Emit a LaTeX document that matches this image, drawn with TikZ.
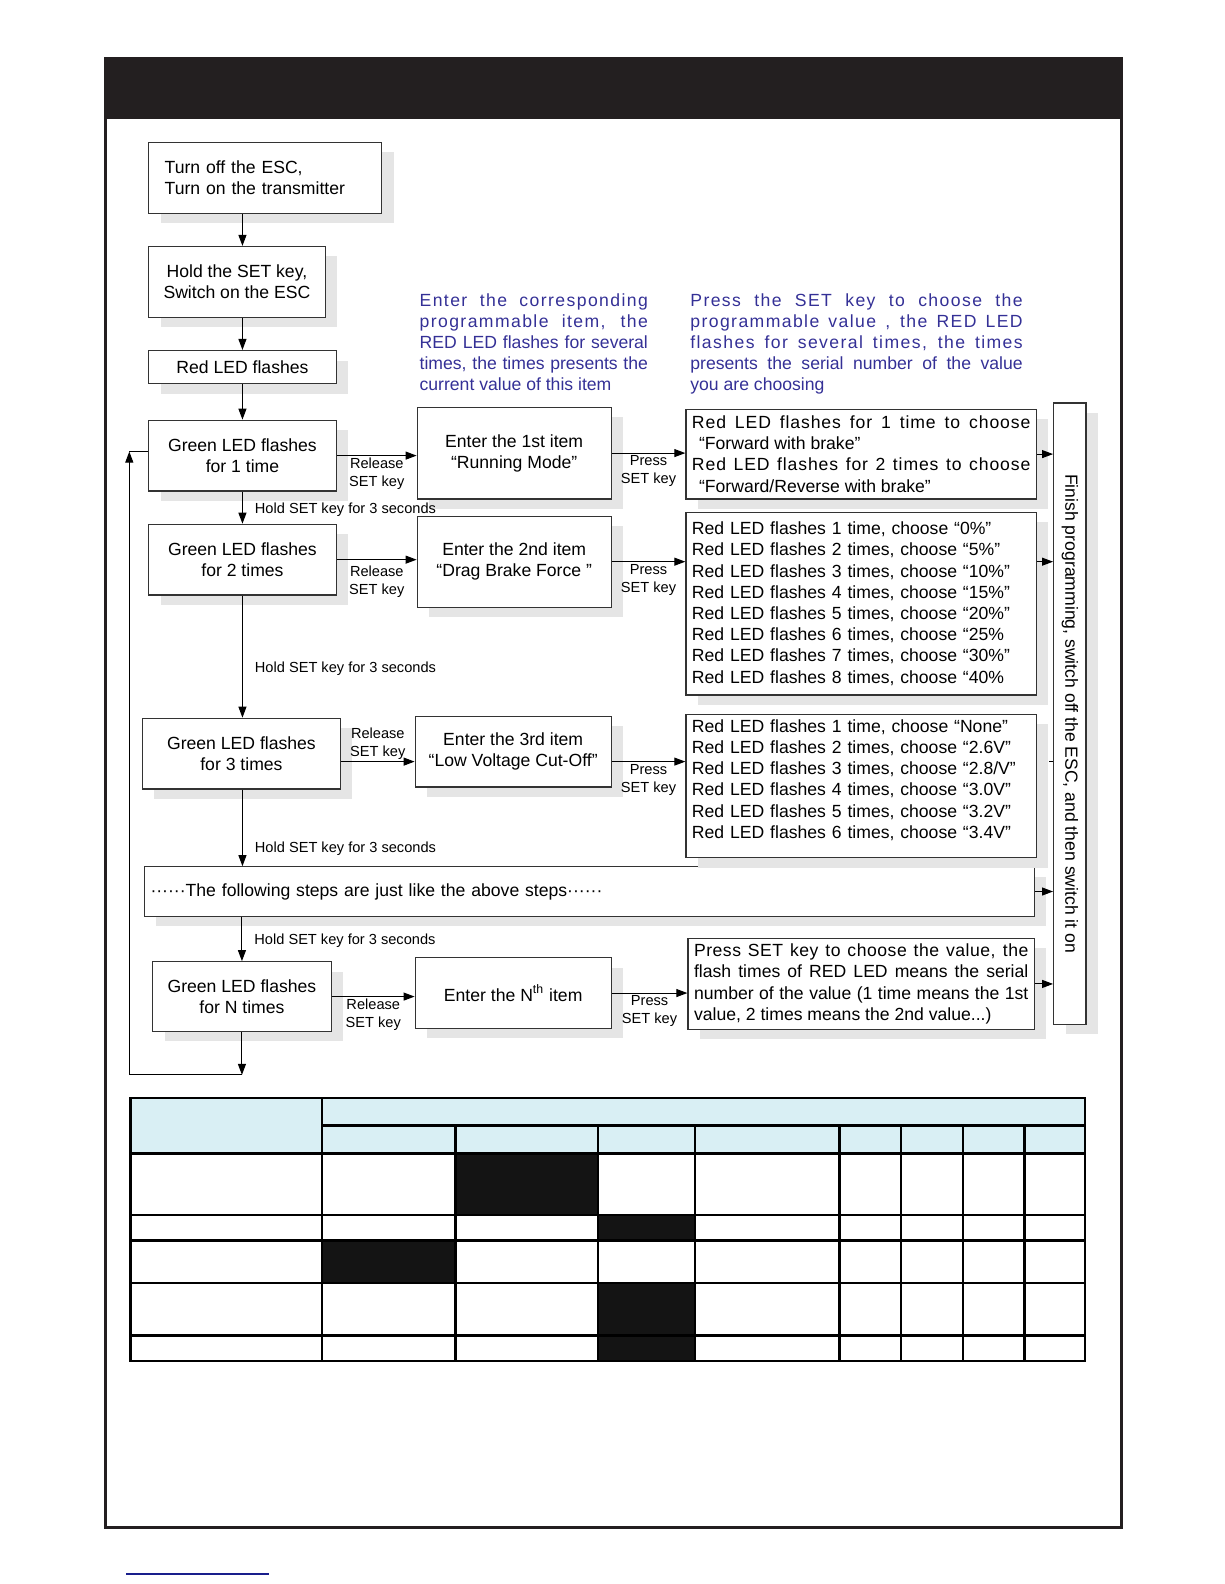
\documentclass[tikz,border=0pt]{standalone}
\usepackage{fontspec}
\setmainfont{Liberation Sans}
\newfontfamily\spacedA[LetterSpace=8]{Liberation Sans}
\newfontfamily\spacedB[LetterSpace=5]{Liberation Sans}
\newfontfamily\spacedC[LetterSpace=3]{Liberation Sans}
\usepackage{graphicx}
\usetikzlibrary{arrows.meta, shadows}
\definecolor{notec}{RGB}{52,48,150}
\definecolor{headc}{RGB}{217,239,244}
\definecolor{barc}{RGB}{35,31,32}
\definecolor{linkc}{RGB}{25,30,140}
\newlength{\pu}\setlength{\pu}{0.505pt}
\newcommand{\boxfont}{\fontsize{8.8}{10.6}\selectfont}
\newcommand{\keyfont}{\fontsize{7.3}{9}\selectfont}

\begin{document}
\begin{tikzpicture}[x=0.505pt, y=-0.505pt, >={Triangle[length=5.5pt, width=4pt]},
  box/.style={draw=black!80, line width=0.6pt, fill=white, inner sep=0pt, align=center, font=\boxfont,
    drop shadow={shadow xshift=6pt, shadow yshift=-5pt, fill=black!10, opacity=1}},
  keylbl/.style={font=\keyfont, align=center, inner sep=1pt},
  holdlbl/.style={font=\keyfont, right=6pt, inner sep=0pt},
  note/.style={text=notec, font=\boxfont, anchor=north west, inner sep=0pt, align=justify},
  link/.style={->, line width=0.5pt}]

\useasboundingbox (0,0) rectangle (1212,1568);

%% ── page frame ───────────────────────────────────────────────────
\fill[barc] (103,56) rectangle (1112,118);
\draw[barc, line width=1.6pt] (104.5,118) -- (104.5,1512) -- (1110.5,1512) -- (1110.5,118);
\draw[linkc, line width=0.8pt] (125,1558) -- (266,1558);

%% ── left column ──────────────────────────────────────────────────
\node[box, minimum width=231*\pu, minimum height=70*\pu, text width=199*\pu, align=left] (start) at (262.5,176) {Turn off the ESC,\\Turn on the transmitter};
\node[box, minimum width=175*\pu, minimum height=70*\pu] (hold) at (234.5,279) {Hold the SET key,\\Switch on the ESC};
\node[box, minimum width=186*\pu, minimum height=33*\pu] (red) at (240,363.5) {Red LED flashes};
\node[box, minimum width=186*\pu, minimum height=70*\pu] (g1) at (240,451) {Green LED flashes\\for 1 time};
\node[box, minimum width=186*\pu, minimum height=70*\pu] (g2) at (240,554) {Green LED flashes\\for 2 times};
\node[box, minimum width=196*\pu, minimum height=70*\pu] (g3) at (239,746) {Green LED flashes\\for 3 times};
\node[box, minimum width=881*\pu, minimum height=49*\pu, text width=869*\pu, align=left] (dots) at (583.5,882.5) {······The following steps are just like the above steps······};
\node[box, minimum width=177*\pu, minimum height=69*\pu] (gn) at (239.5,986.5) {Green LED flashes\\for N times};

%% ── items ────────────────────────────────────────────────────────
\node[box, minimum width=192*\pu, minimum height=91*\pu] (i1) at (509,448.5) {Enter the 1st item\\“Running Mode”};
\node[box, minimum width=192*\pu, minimum height=90*\pu] (i2) at (509,556) {Enter the 2nd item\\“Drag Brake Force ”};
\node[box, minimum width=194*\pu, minimum height=70*\pu] (i3) at (508,744) {Enter the 3rd item\\“Low Voltage Cut-Off”};
\node[box, minimum width=194*\pu, minimum height=70*\pu] (itn) at (508,983) {Enter the N\textsuperscript{th} item};

%% ── values ───────────────────────────────────────────────────────
\node[box, minimum width=347*\pu, minimum height=89*\pu, text width=335*\pu, align=justify] (v1) at (852.5,449.5)
  {{\spacedB Red LED flashes for 1 time to choose}\linebreak\hspace*{0.4em}“Forward with brake”\\
   {\spacedB Red LED flashes for 2 times to choose}\linebreak\hspace*{0.4em}“Forward/Reverse with brake”};
\node[box, minimum width=347*\pu, minimum height=181*\pu, text width=335*\pu, align=left] (v2) at (852.5,597.5)
  {Red LED flashes 1 time, choose “0\%”\\
   Red LED flashes 2 times, choose “5\%”\\
   Red LED flashes 3 times, choose “10\%”\\
   Red LED flashes 4 times, choose “15\%”\\
   Red LED flashes 5 times, choose “20\%”\\
   Red LED flashes 6 times, choose “25\%\\
   Red LED flashes 7 times, choose “30\%”\\
   Red LED flashes 8 times, choose “40\%};
\node[box, minimum width=347*\pu, minimum height=142*\pu, text width=335*\pu, align=left, text depth=60pt] (v3) at (852.5,778)
  {Red LED flashes 1 time, choose “None”\\
   Red LED flashes 2 times, choose “2.6V”\\
   Red LED flashes 3 times, choose “2.8/V”\\
   Red LED flashes 4 times, choose “3.0V”\\
   Red LED flashes 5 times, choose “3.2V”\\
   Red LED flashes 6 times, choose “3.4V”};
\node[box, minimum width=343*\pu, minimum height=90*\pu, text width=331*\pu, align=justify] (vn) at (852.5,974)
  {{\spacedC Press SET key to choose the value, the}\linebreak
   flash times of RED LED means the serial\linebreak
   number of the value (1 time means the 1st\linebreak
   value, 2 times means the 2nd value...)};

%% ── finish ───────────────────────────────────────────────────────
\node[box, minimum width=32*\pu, minimum height=615*\pu] (fin) at (1059,706.5)
  {\rotatebox{-90}{Finish programming, switch off the ESC, and then switch it on}};

%% ── notes ────────────────────────────────────────────────────────
\node[note, text width=226*\pu] (note1) at (415,290)
  {{\spacedA Enter the corresponding}\linebreak {\spacedA programmable item, the}\linebreak RED LED flashes for several\linebreak
   times, the times presents the\linebreak current value of this item};
\node[note, text width=329*\pu] (note2) at (683,290)
  {{\spacedA Press the SET key to choose the}\linebreak {\spacedA programmable value , the RED LED}\linebreak
   {\spacedA flashes for several times, the times}\linebreak presents the serial number of the value\linebreak you are choosing};

%% ── vertical flow ────────────────────────────────────────────────
\draw[link] (start.south -| red) -- (hold.north -| red);
\draw[link] (hold.south -| red) -- (red);
\draw[link] (red) -- (g1);
\draw[link] (g1) -- node[holdlbl, pos=0.55] {Hold SET key for 3 seconds} (g2);
\draw[link] (g2.south) -- node[holdlbl, pos=0.6] {Hold SET key for 3 seconds} (g2.south |- g3.north);
\draw[link] (g3.south -| g2) -- node[holdlbl, pos=0.77] {Hold SET key for 3 seconds} (g2 |- dots.north);
\draw[link] (dots.south -| gn) -- node[holdlbl, pos=0.53] {Hold SET key for 3 seconds} (gn);

\coordinate (loopb) at (239.5,1064);
\coordinate (loopt) at (128,447);
\draw[link] (gn) -- (loopb);
\draw[link] (loopb) -| (loopt);
\draw[line width=0.5pt] (loopt) -- (loopt -| g1.west);

%% ── horizontal flow ──────────────────────────────────────────────
\coordinate (g3r) at ([yshift=-4pt]g3.east);
\coordinate (i3r) at ([yshift=-5pt]i3.east);
\draw[link] (g1.east) -- node[keylbl, below] {Release\\SET key} (g1.east -| i1.west);
\draw[link] (i1.east) -- node[keylbl, below] {Press\\SET key} (i1.east -| v1.west);
\draw[link] (g2.east) -- node[keylbl, below=2pt] {Release\\SET key} (g2.east -| i2.west);
\draw[link] (i2.east) -- node[keylbl, below] {Press\\SET key} (i2.east -| v2.west);
\draw[link] (g3r) -- node[keylbl, above] {Release\\SET key} (g3r -| i3.west);
\draw[link] (i3r) -- node[keylbl, below] {Press\\SET key} (i3r -| v3.west);
\draw[link] (gn.east) -- node[keylbl, below] {Release\\SET key} (gn.east -| itn.west);
\draw[link] (itn.east) -- node[keylbl, below] {Press\\SET key} (itn.east -| vn.west);

%% ── into finish ──────────────────────────────────────────────────
\draw[link] (v1.east) -- (v1.east -| fin.west);
\draw[link] (v2.east |- i2.east) -- (i2.east -| fin.west);
\draw[line width=0.5pt] (fin.west |- i3r) -- ++(-4,0);
\draw[link] (dots.east) -- (dots.east -| fin.west);
\draw[link] (vn.east) -- (vn.east -| fin.west);

%% ── table ────────────────────────────────────────────────────────
\fill[headc] (129,1087) rectangle (1074,1142);
\fill[black!92] (451,1142) rectangle (592,1203);
\fill[black!92] (592,1203) rectangle (688,1228);
\fill[black!92] (319,1228) rectangle (451,1270);
\fill[black!92] (592,1270) rectangle (688,1347);
\begin{scope}[line width=1.2pt]
  \draw (129,1087) rectangle (1074,1347);
  \draw (319,1087) -- (319,1347);
  \draw (319,1114) -- (1074,1114);
  \foreach \yy in {1142,1203,1228,1270,1322} \draw (129,\yy) -- (1074,\yy);
  \foreach \xx in {451,592,688,831,892,953,1014} \draw (\xx,1114) -- (\xx,1347);
\end{scope}

\end{tikzpicture}
\end{document}
